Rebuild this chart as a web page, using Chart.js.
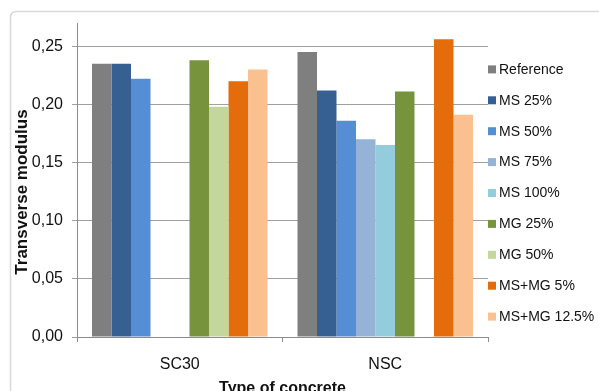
<!DOCTYPE html>
<html>
<head>
<meta charset="utf-8">
<script src="https://cdn.jsdelivr.net/npm/chart.js@4/dist/chart.umd.min.js"></script>
<style>
  html, body { margin: 0; padding: 0; background: #fff; overflow: hidden; }
  #wrap { position: absolute; left: 0; top: 0; width: 599px; height: 400px; }
</style>
</head>
<body>
<div id="wrap"><canvas id="c" width="599" height="400"></canvas></div>
<script>
const categories = ['SC30', 'NSC'];
const seriesNames = ['Reference', 'MS 25%', 'MS 50%', 'MS 75%', 'MS 100%', 'MG 25%', 'MG 50%', 'MS+MG 5%', 'MS+MG 12.5%'];
const reference = [0.235, 0.245];
const ms25 = [0.235, 0.212];
const ms50 = [0.222, 0.186];
const ms75 = [null, 0.170];
const ms100 = [null, 0.165];
const mg25 = [0.238, 0.211];
const mg50 = [0.198, null];
const msmg5 = [0.220, 0.256];
const msmg125 = [0.230, 0.191];
const yTicks = [0, 0.05, 0.10, 0.15, 0.20, 0.25];
const seriesValues = [reference, ms25, ms50, ms75, ms100, mg25, mg50, msmg5, msmg125];
const seriesColors = ['#7f7f7f', '#366092', '#558ed5', '#95b3d7', '#93cddd', '#77933c', '#c3d69b', '#e46c0a', '#fac090'];

const FONT = '"Liberation Sans", Arial, Helvetica, sans-serif';
const GRID = '#a0a0a0';
const AXIS = '#8c8c8c';

const extras = {
  id: 'extras',
  beforeDraw(chart) {
    const ctx = chart.ctx;
    ctx.save();
    ctx.strokeStyle = '#d9d9d9';
    ctx.lineWidth = 1.5;
    const x = 10.5, y = 11.5, r = 6;
    ctx.beginPath();
    ctx.moveTo(x, 420);
    ctx.lineTo(x, y + r);
    ctx.quadraticCurveTo(x, y, x + r, y);
    ctx.lineTo(620, y);
    ctx.stroke();
    ctx.restore();
  },
  afterDraw(chart) {
    const ctx = chart.ctx;
    const area = chart.chartArea;
    ctx.save();
    // legend
    ctx.font = '14px ' + FONT;
    ctx.textBaseline = 'middle';
    ctx.textAlign = 'left';
    chart.data.datasets.forEach((ds, i) => {
      const yc = 69.4 + i * 30.9;
      ctx.fillStyle = ds.backgroundColor;
      ctx.fillRect(area.right, yc - 4, 8, 8);
      ctx.fillStyle = '#111';
      ctx.fillText(ds.label, area.right + 11, yc + 0.5);
    });
    // y axis title
    ctx.translate(22, 192);
    ctx.rotate(-Math.PI / 2);
    ctx.font = 'bold 17px ' + FONT;
    ctx.textAlign = 'center';
    ctx.fillStyle = '#111';
    ctx.fillText('Transverse modulus', 0, 0);
    ctx.restore();
  }
};

new Chart(document.getElementById('c'), {
  type: 'bar',
  data: {
    labels: categories,
    datasets: seriesValues.map((vals, i) => ({
      label: seriesNames[i],
      data: vals,
      backgroundColor: seriesColors[i],
      borderWidth: 0,
      categoryPercentage: 0.854,
      barPercentage: 1.0
    }))
  },
  options: {
    responsive: false,
    animation: false,
    devicePixelRatio: 1,
    layout: { padding: { left: 0, top: 23, right: 111, bottom: 0 } },
    plugins: { legend: { display: false }, tooltip: { enabled: false } },
    scales: {
      x: {
        grid: { display: true, drawOnChartArea: false, drawTicks: true, tickLength: 5, color: AXIS, offset: true },
        border: { display: true, color: AXIS, width: 1 },
        ticks: { font: { size: 16, family: FONT }, color: '#111', padding: 13, maxRotation: 0 },
        title: { display: true, text: 'Type of concrete', font: { size: 16, weight: 'bold', family: FONT }, color: '#111', padding: { top: 0, bottom: 2 } },
        afterFit(s) { s.height = 400 - 337; }
      },
      y: {
        min: 0,
        max: 0.27,
        grid: { color: GRID, drawTicks: true, tickLength: 5 },
        border: { display: true, color: AXIS, width: 1 },
        ticks: {
          font: { size: 16, family: FONT }, color: '#111', padding: 9,
          callback: (v) => Number(v).toFixed(2).replace('.', ',')
        },
        afterBuildTicks(s) { s.ticks = yTicks.map(v => ({ value: v })); },
        afterFit(s) { s.width = 77; }
      }
    }
  },
  plugins: [extras]
});
</script>
</body>
</html>
